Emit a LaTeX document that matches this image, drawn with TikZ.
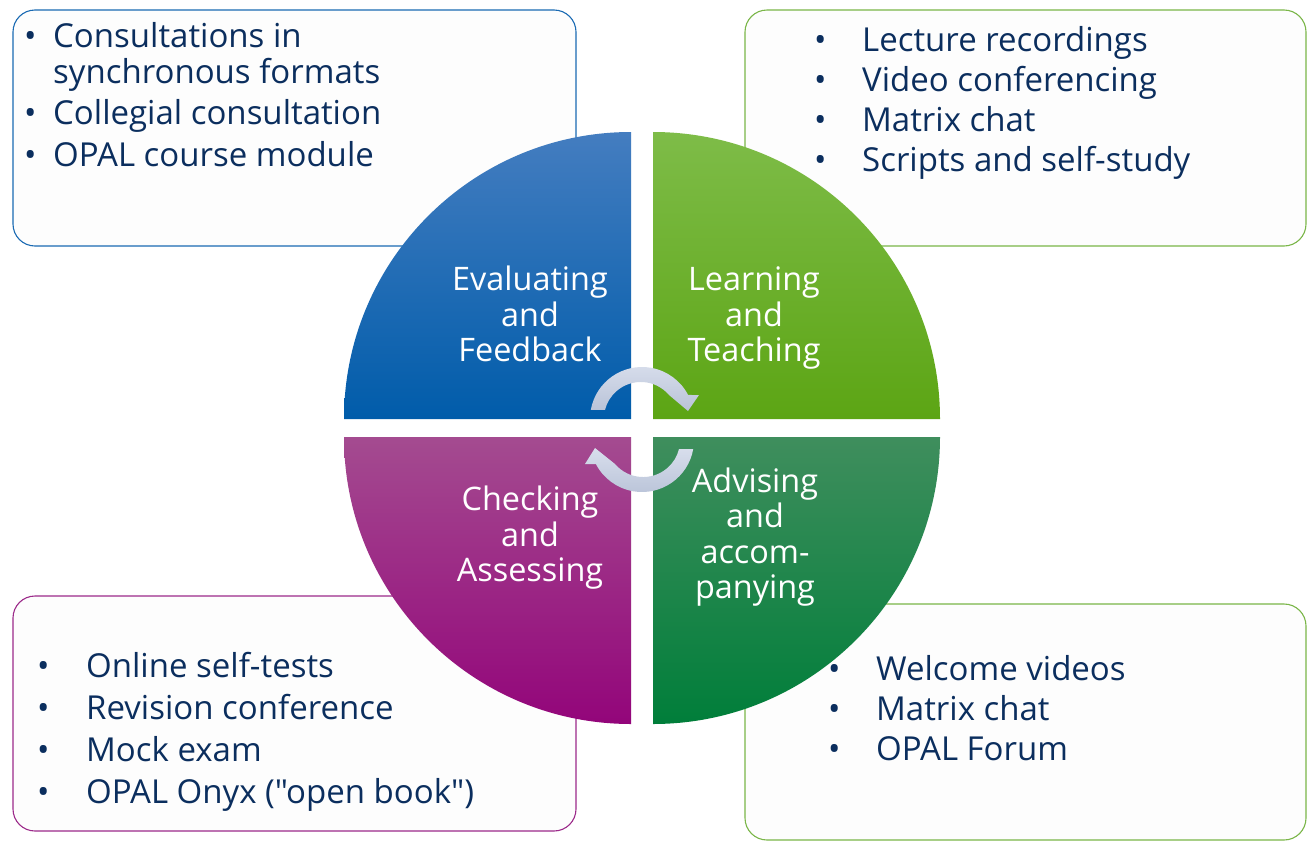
\documentclass[tikz,border=0pt]{standalone}
\usepackage{fontspec}
\setmainfont{Open Sans}[Ligatures=TeXOff]
\definecolor{txt}{HTML}{0B2E5E}
\definecolor{tlTop}{HTML}{447DC0}
\definecolor{tlBot}{HTML}{005CAA}
\definecolor{trTop}{HTML}{7EBC48}
\definecolor{trBot}{HTML}{5CA514}
\definecolor{blTop}{HTML}{A44B90}
\definecolor{blBot}{HTML}{93057A}
\definecolor{brTop}{HTML}{3F8E5D}
\definecolor{brBot}{HTML}{007E3A}
\definecolor{bdBlue}{HTML}{1A6AB3}
\definecolor{bdGreen}{HTML}{7AB648}
\definecolor{bdPurple}{HTML}{9C2A8A}
\definecolor{boxFill}{HTML}{FDFDFD}
\definecolor{arrA}{HTML}{D8DEEC}
\definecolor{arrB}{HTML}{B9C3D8}
\newcommand{\bl}[2]{\hbox{\makebox[#1][l]{•}#2}}
\tikzset{
  listbox/.style={rounded corners=22pt, fill=boxFill, line width=1.1pt, inner sep=0pt, outer sep=0pt, minimum width=563pt, anchor=north west},
  listtext/.style={anchor=base west, inner sep=0pt, text=txt, font=\fontsize{33}{40}\selectfont},
  qlabel/.style={anchor=base, inner sep=0pt, text=white, font=\fontsize{32.4}{36}\selectfont},
  cycarrow/.style={top color=arrA, bottom color=arrB}
}
\begin{document}
\begin{tikzpicture}[x=1pt,y=-1pt]
\useasboundingbox (0,0) rectangle (1307,841);
\fill[white] (0,0) rectangle (1307,841);

% list boxes (behind the circle)
\node[listbox, draw=bdBlue, minimum height=236pt] (tlbox) at (13,10) {};
\node[listbox, draw=bdGreen, minimum width=561pt, minimum height=236pt] (trbox) at (745,10) {};
\node[listbox, draw=bdPurple, minimum height=235pt] (blbox) at (13,596) {};
\node[listbox, draw=bdGreen, minimum width=561pt, minimum height=236pt] (brbox) at (745,604) {};

% quadrants
\shade[top color=tlTop, bottom color=tlBot] (631,419) -- (344,419) arc[start angle=180, end angle=270, radius=287] -- cycle;
\shade[top color=trTop, bottom color=trBot] (653,419) -- (653,132) arc[start angle=270, end angle=360, radius=287] -- cycle;
\shade[top color=blTop, bottom color=blBot] (631,437) -- (344,437) arc[start angle=180, end angle=90, radius=287] -- cycle;
\shade[top color=brTop, bottom color=brBot] (653,437) -- (940,437) arc[start angle=0, end angle=90, radius=287] -- cycle;

% cycle arrows
\coordinate (c1) at (642,419);
\coordinate (c2) at (642,440);
\shade[cycarrow] ([shift={(190:52)}]c1) arc[start angle=190, end angle=332.5, radius=52]
  -- ([shift={(57,-24)}]c1) -- ([shift={(46,-8)}]c1) -- ([shift={(27,-24)}]c1)
  arc[start angle=319.6, end angle=194.1, radius=37] -- cycle;
\shade[cycarrow] ([shift={(10:52)}]c2) arc[start angle=10, end angle=152.5, radius=52]
  -- ([shift={(-57,24)}]c2) -- ([shift={(-47,8)}]c2) -- ([shift={(-27,24)}]c2)
  arc[start angle=139.6, end angle=14.1, radius=37] -- cycle;

% quadrant labels
\node[qlabel] (ef) at (530,290.7) {\vtop{\baselineskip=35.5pt\halign{\hfil#\hfil\cr Evaluating\cr and\cr Feedback\cr}}};
\node[qlabel] (lt) at (754,290.7) {\vtop{\baselineskip=35.5pt\halign{\hfil#\hfil\cr Learning\cr and\cr Teaching\cr}}};
\node[qlabel] (ca) at (530,510.7) {\vtop{\baselineskip=35.5pt\halign{\hfil#\hfil\cr Checking\cr and\cr Assessing\cr}}};
\node[qlabel] (aa) at (755,492.3) {\vtop{\baselineskip=35.5pt\halign{\hfil#\hfil\cr Advising\cr and\cr accom-\cr panying\cr}}};

% list texts
\node[listtext] (tltxt) at (24,47) {\vtop{\baselineskip=36pt
  \bl{29pt}{Consultations in}
  \hbox{\hspace{29pt}synchronous formats}\vskip5.5pt
  \bl{29pt}{Collegial consultation}\vskip5.5pt
  \bl{29pt}{OPAL course module}}};
\node[listtext] (trtxt) at (814,51) {\vtop{\baselineskip=40pt
  \bl{48pt}{Lecture recordings}
  \bl{48pt}{Video conferencing}
  \bl{48pt}{Matrix chat}
  \bl{48pt}{Scripts and self-study}}};
\node[listtext] (bltxt) at (37,677) {\vtop{\baselineskip=42pt
  \bl{49pt}{Online self-tests}
  \bl{49pt}{Revision conference}
  \bl{49pt}{Mock exam}
  \bl{49pt}{OPAL Onyx ("open book")}}};
\node[listtext] (brtxt) at (828,680) {\vtop{\baselineskip=40pt
  \bl{48pt}{Welcome videos}
  \bl{48pt}{Matrix chat}
  \bl{48pt}{OPAL Forum}}};
\end{tikzpicture}
\end{document}
